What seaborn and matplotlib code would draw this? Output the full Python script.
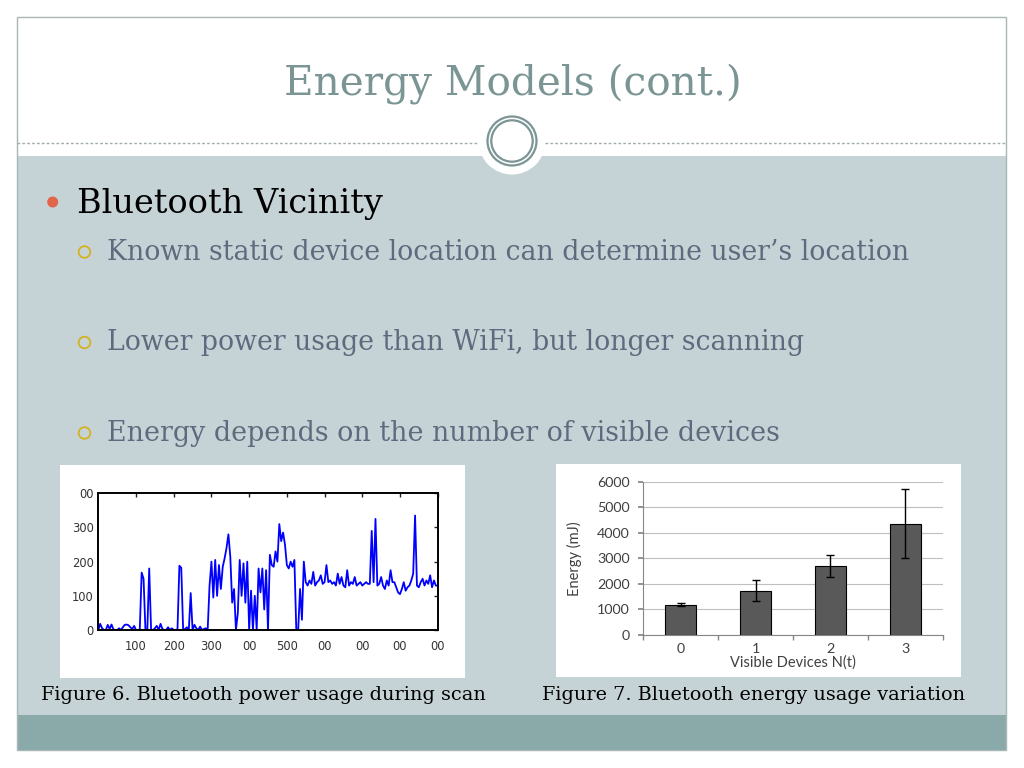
import numpy as np
import pandas as pd
import matplotlib
matplotlib.use('Agg')
import matplotlib.pyplot as plt
import seaborn as sns
from matplotlib.patches import Rectangle, Circle

# --- data ---
# Figure 6: bluetooth power during a scan (sampled every 5 time units, 0..900)
scan_time = np.arange(0, 905, 5)
scan_power = [
    0, 18, 5, 0, 0, 15, 3, 16, 2, 0, 0, 5, 0, 8, 15, 16, 14, 8, 3, 12,
    0, 0, 2, 168, 150, 0, 0, 180, 0, 0, 5, 12, 0, 18, 3, 0, 0, 8, 0, 5,
    0, 0, 2, 188, 182, 0, 3, 8, 0, 108, 0, 15, 5, 0, 10, 0, 3, 5, 0, 130,
    200, 95, 205, 100, 190, 120, 185, 210, 240, 280, 215, 80, 120, 0, 50, 205, 100, 195, 80, 200,
    0, 115, 0, 100, 0, 180, 110, 180, 60, 175, 0, 220, 190, 185, 230, 200, 310, 260, 285, 250,
    190, 180, 200, 185, 205, 0, 0, 120, 30, 200, 140, 130, 145, 135, 170, 130, 140, 145, 160, 135,
    140, 190, 140, 145, 135, 140, 130, 165, 135, 155, 130, 125, 175, 130, 140, 135, 155, 130, 135, 140,
    130, 135, 140, 135, 135, 290, 140, 325, 130, 135, 155, 130, 120, 145, 130, 175, 140, 140, 125, 110,
    105, 120, 140, 115, 125, 130, 145, 165, 335, 130, 125, 140, 150, 130, 145, 135, 160, 125, 145, 130,
    130,
]
scan_xticks = [100, 200, 300, 400, 500, 600, 700, 800, 900]
scan_xlabels = ['100', '200', '300', '00', '500', '00', '00', '00', '00']
scan_yticks = [0, 100, 200, 300, 400]
scan_ylabels = ['0', '100', '200', '300', '00']

# Figure 7: energy vs number of visible devices
devices = ['0', '1', '2', '3']
energy_mj = [1180, 1735, 2690, 4360]
energy_err = [60, 400, 425, 1355]

title = 'Energy Models (cont.)'
bullet = 'Bluetooth Vicinity'
sub_bullets = [
    'Known static device location can determine user\u2019s location',
    'Lower power usage than WiFi, but longer scanning',
    'Energy depends on the number of visible devices',
]
cap6 = 'Figure 6. Bluetooth power usage during scan'
cap7 = 'Figure 7. Bluetooth energy usage variation'

sns.set_theme(style='white')
plt.rcParams['font.family'] = ['DejaVu Sans']

fig = plt.figure(figsize=(10.24, 7.68), dpi=100)
renderer = fig.canvas.get_renderer()

# --- slide background, drawn in pixel coords ---
bg = fig.add_axes([0, 0, 1, 1])
bg.set_xlim(0, 1024)
bg.set_ylim(768, 0)
bg.axis('off')

bg.add_patch(Rectangle((17, 156), 989, 559, fc='#c6d3d6', ec='none'))
bg.add_patch(Rectangle((17, 715), 989, 35, fc='#8aa9a9', ec='none'))
bg.add_patch(Rectangle((17, 17), 989, 733, fill=False, ec='#a9b7b7', lw=1))
bg.plot([17, 477], [142.7, 142.7], ls=(0, (2, 1.5)), color='#a3adad', lw=1)
bg.plot([545, 1006], [142.7, 142.7], ls=(0, (2, 1.5)), color='#a3adad', lw=1)
bg.add_patch(Circle((512, 141), 33.5, fc='white', ec='none'))
bg.add_patch(Circle((512, 141), 24.5, fill=False, ec='#7b9595', lw=1.6))
bg.add_patch(Circle((512, 141), 20.7, fill=False, ec='#7b9595', lw=1.6))

# white frames behind the two figures
bg.add_patch(Rectangle((60, 465), 405, 213, fc='white', ec='none'))
bg.add_patch(Rectangle((556, 464), 405, 213, fc='white', ec='none'))


def fit_width(txt, width_px):
    w = txt.get_window_extent(renderer=renderer).width
    txt.set_fontsize(txt.get_fontsize() * width_px / w)


serif = ['DejaVu Serif']
t = bg.text(512.5, 94, title, ha='center', va='baseline', family=serif,
            color='#7b9595', fontsize=30)
fit_width(t, 459)

bg.add_patch(Circle((52.7, 202), 5.5, fc='#e0654a', ec='none'))
t = bg.text(77, 213, bullet, ha='left', va='baseline', family=serif,
            color='black', fontsize=24)
fit_width(t, 306)

sub_widths = [804, 699, 671]
for i, (s, w) in enumerate(zip(sub_bullets, sub_widths)):
    y = 260 + i * 90.5
    bg.add_patch(Circle((84.5, y - 8), 5.8, fill=False, ec='#d4b21e', lw=1.3))
    t = bg.text(107, y, s, ha='left', va='baseline', family=serif,
                color='#5e6b7e', fontsize=18)
    fit_width(t, w)

t = bg.text(41, 700.5, cap6, ha='left', va='baseline', family=serif,
            color='black', fontsize=14)
fit_width(t, 446)
t = bg.text(542, 699.5, cap7, ha='left', va='baseline', family=serif,
            color='black', fontsize=14)
fit_width(t, 423)

# --- Figure 6: power trace ---
ax1 = fig.add_axes([98.3 / 1024, (768 - 630) / 768, 339.4 / 1024, 136.7 / 768])
ax1.set_facecolor('white')
sns.lineplot(x=scan_time, y=scan_power, ax=ax1, color='#0000ff', lw=1.3)
ax1.set_xlim(0, 900)
ax1.set_ylim(0, 400)
ax1.set_xticks(scan_xticks)
ax1.set_xticklabels(scan_xlabels)
ax1.set_yticks(scan_yticks)
ax1.set_yticklabels(scan_ylabels)
ax1.tick_params(direction='in', top=True, right=True, length=3, width=1,
                labelsize=8.3, labelcolor='#333333', color='#222222')
ax1.tick_params(axis='x', pad=7)
ax1.tick_params(axis='y', pad=3.3)
for sp in ax1.spines.values():
    sp.set_visible(True)
    sp.set_color('black')
    sp.set_linewidth(1.4)
ax1.set_xlabel('')
ax1.set_ylabel('')

# --- Figure 7: energy bars ---
ax2 = fig.add_axes([643.3 / 1024, (768 - 635) / 768, 299.4 / 1024, 153.3 / 768])
ax2.set_facecolor('white')
df = pd.DataFrame({'devices': devices, 'energy': energy_mj})
sns.barplot(data=df, x='devices', y='energy', ax=ax2, color='#595959',
            saturation=1, edgecolor='black', linewidth=0.8, width=0.41,
            errorbar=None, zorder=2)
ax2.errorbar(np.arange(len(devices)), energy_mj, yerr=energy_err, fmt='none',
             ecolor='black', elinewidth=1, capsize=3, capthick=1, zorder=3)
ax2.set_xlim(-0.5, 3.5)
ax2.set_ylim(0, 6000)
ax2.set_yticks(range(0, 6001, 1000))
ax2.yaxis.grid(True, color='#bfbfbf', lw=0.8)
ax2.set_axisbelow(True)
for side in ['top', 'right']:
    ax2.spines[side].set_visible(False)
for side in ['left', 'bottom']:
    ax2.spines[side].set_color('#868686')
    ax2.spines[side].set_linewidth(0.8)
ax2.set_xticks(np.arange(-0.5, 4, 1), minor=True)
ax2.tick_params(axis='x', which='major', length=0, pad=5.5)
ax2.tick_params(axis='x', which='minor', length=3.6, color='#868686',
                direction='out', bottom=True)
ax2.tick_params(axis='y', length=3.6, color='#868686', direction='out', left=True, pad=6)
ax2.tick_params(labelsize=10.3, labelcolor='#404040')
for lab in ax2.get_xticklabels() + ax2.get_yticklabels():
    lab.set_family('Lato')
ax2.set_xlabel('Visible Devices N(t)', family='Lato', fontsize=10.5,
               color='#404040', labelpad=0.5)
ax2.set_ylabel('Energy (mJ)', family='Lato', fontsize=10.5,
               color='#404040', labelpad=11)

fig.savefig('out.png', dpi=100)
